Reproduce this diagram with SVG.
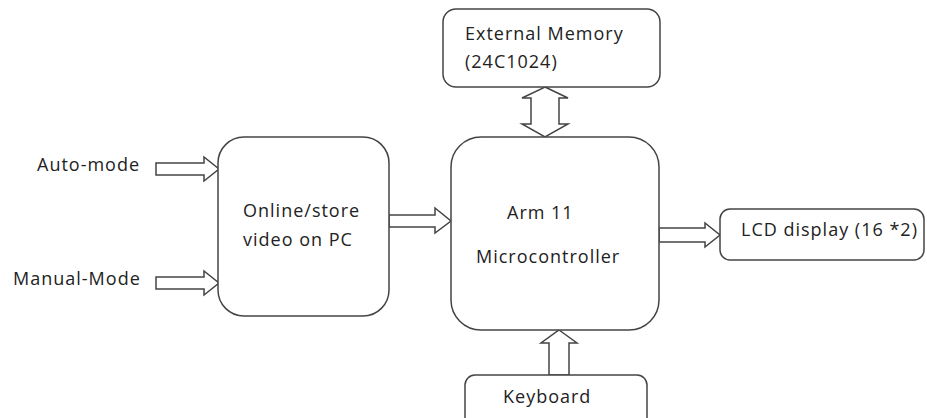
<svg xmlns="http://www.w3.org/2000/svg" width="927" height="418" viewBox="0 0 927 418">
<style>
.box{fill:#fff;stroke:#444;stroke-width:1.5}
.arr{fill:#fff;stroke:#444;stroke-width:1.5;stroke-linejoin:miter}
text{font-family:"Open Sans","DejaVu Sans",sans-serif;font-size:18px;letter-spacing:1px;fill:#222}
</style>
<rect width="927" height="418" fill="#fff"/>
<g id="connectors">
<polygon class="arr" points="545,87 568,98 559,98 559,124 568,124 545,137 522,124 531,124 531,98 522,98"/>
<polygon class="arr" points="156,163 204,163 204,157 219,169 204,181 204,175 156,175"/>
<polygon class="arr" points="156,277 204,277 204,271 219,283 204,295 204,289 156,289"/>
<polygon class="arr" points="389,215 435,215 435,208 451,221 435,233 435,227 389,227"/>
<polygon class="arr" points="659,228 705,228 705,223 720,235 705,247 705,242 659,242"/>
<polygon class="arr" points="559,330 577,343 569,343 569,375 549,375 549,343 541,343"/>
</g>
<g id="external-memory">
<rect class="box" x="443" y="9" width="217" height="78" rx="13"/>
<text x="465" y="40">External Memory</text>
<text x="465" y="68">(24C1024)</text>
</g>
<g id="online-pc">
<rect class="box" x="218" y="137" width="171" height="179" rx="26"/>
<text x="243" y="217">Online/store</text>
<text x="243" y="246">video on PC</text>
</g>
<g id="microcontroller">
<rect class="box" x="451" y="137" width="208" height="193" rx="30"/>
<text x="507" y="219">Arm 11</text>
<text x="476" y="263">Microcontroller</text>
</g>
<g id="lcd">
<rect class="box" x="720" y="209" width="204" height="51" rx="10"/>
<text x="741" y="236">LCD display (16 *2)</text>
</g>
<g id="keyboard">
<rect class="box" x="465" y="375" width="182" height="55" rx="10"/>
<text x="503" y="403">Keyboard</text>
</g>
<g id="labels">
<text x="37" y="171">Auto-mode</text>
<text x="13" y="285">Manual-Mode</text>
</g>
</svg>
